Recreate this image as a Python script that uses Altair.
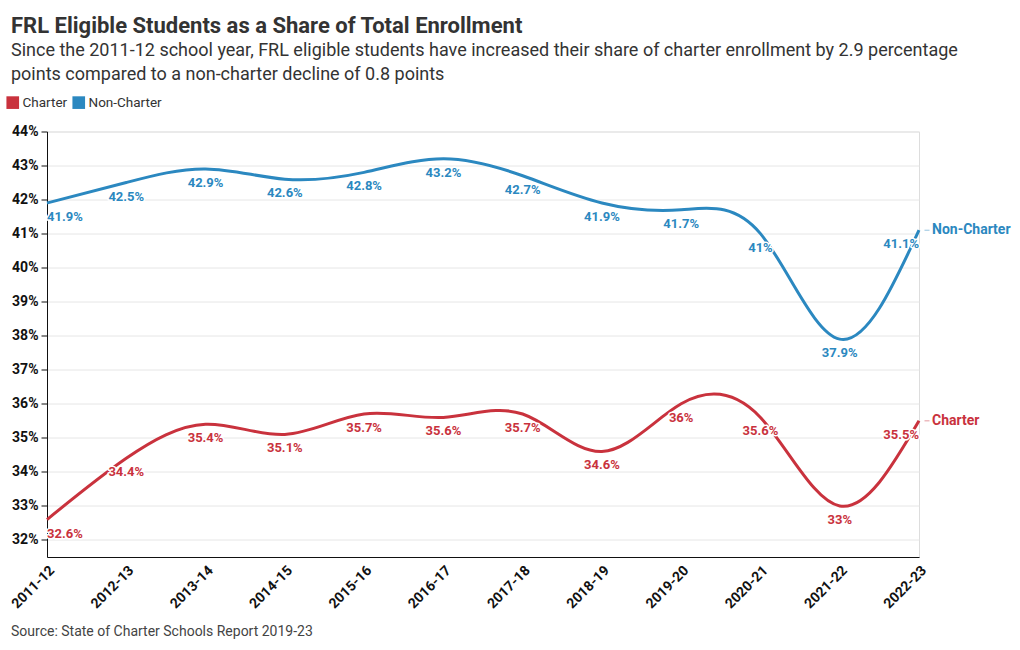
import altair as alt
import pandas as pd

years = ["2011-12", "2012-13", "2013-14", "2014-15", "2015-16", "2016-17",
         "2017-18", "2018-19", "2019-20", "2020-21", "2021-22", "2022-23"]
charter = [32.6, 34.4, 35.4, 35.1, 35.7, 35.6, 35.7, 34.6, 36.0, 35.6, 33.0, 35.5]
non_charter = [41.9, 42.5, 42.9, 42.6, 42.8, 43.2, 42.7, 41.9, 41.7, 41.0, 37.9, 41.1]
series_names = ["Charter", "Non-Charter"]
colors = ["#c9323d", "#2b88c0"]

rows = []
for i, y in enumerate(years):
    rows.append({"year": y, "series": "Charter", "value": charter[i], "idx": i,
                 "label": f"{charter[i]:g}%"})
    rows.append({"year": y, "series": "Non-Charter", "value": non_charter[i], "idx": i,
                 "label": f"{non_charter[i]:g}%"})
df = pd.DataFrame(rows)
last = len(years) - 1

FONT = "Roboto"
W, H = 872, 425.5

x_enc = alt.X("year:N", sort=years, scale=alt.Scale(type="point", padding=0),
              axis=alt.Axis(title=None, labelAngle=-45, labelFont=FONT, labelFontSize=14,
                            labelFontWeight="bold", labelColor="#111", ticks=False,
                            domainColor="#111", labelPadding=6, labelAlign="right",
                            labelBaseline="top", labelOverlap=False))
y_enc = alt.Y("value:Q", scale=alt.Scale(domain=[31.5, 44], nice=False, zero=False),
              axis=alt.Axis(title=None, values=list(range(32, 45)),
                            labelExpr="datum.value + '%'", labelFont=FONT, labelFontSize=14,
                            labelFontWeight="bold", labelColor="#111", tickColor="#111",
                            tickSize=6, domainColor="#111", gridColor="#e6e6e6",
                            labelPadding=3))
color_enc = alt.Color("series:N", scale=alt.Scale(domain=series_names, range=colors),
                      legend=alt.Legend(title=None, orient="none", legendX=-41, legendY=-36,
                                        direction="horizontal", symbolType="square",
                                        symbolSize=160, labelFont=FONT, labelFontSize=13.5,
                                        labelColor="#333", columnPadding=4, labelOffset=3,
                                        symbolStrokeWidth=0, symbolOpacity=1))

base = alt.Chart(df).encode(x=x_enc, y=y_enc)

line = base.mark_line(interpolate="natural", strokeWidth=3).encode(color=color_enc)


def labels(filt, align):
    halo = base.transform_filter(filt).mark_text(
        align=align, baseline="middle", dy=14, font=FONT, fontSize=13, fontWeight="bold",
        stroke="white", strokeWidth=3, strokeJoin="round", fill="white"
    ).encode(text="label:N")
    txt = base.transform_filter(filt).mark_text(
        align=align, baseline="middle", dy=14, font=FONT, fontSize=13, fontWeight="bold"
    ).encode(text="label:N", color=alt.Color("series:N", legend=None,
                                              scale=alt.Scale(domain=series_names, range=colors)))
    return halo + txt


lab_first = labels("datum.idx == 0", "left")
lab_mid = labels(f"datum.idx > 0 && datum.idx < {last}", "center")
lab_last = labels(f"datum.idx == {last}", "right")

end_df = df[df["idx"] == last]
end_base = alt.Chart(end_df).encode(x=x_enc, y=y_enc)
end_tick = end_base.mark_tick(orient="horizontal", size=5, thickness=1, xOffset=8, opacity=0.5).encode(
    color=alt.Color("series:N", legend=None, scale=alt.Scale(domain=series_names, range=colors)))
end_text = end_base.mark_text(align="left", baseline="middle", dx=13, font=FONT, fontSize=14,
                              fontWeight="bold").encode(
    text="series:N",
    color=alt.Color("series:N", legend=None, scale=alt.Scale(domain=series_names, range=colors)))

source = alt.Chart(pd.DataFrame({"t": ["Source: State of Charter Schools Report 2019-23"]})).mark_text(
    align="left", baseline="middle", font=FONT, fontSize=14, color="#444"
).encode(text="t:N", x=alt.value(-36), y=alt.value(H + 75))

chart = alt.layer(line, lab_first, lab_mid, lab_last, end_tick, end_text, source).properties(
    width=W, height=H,
    title=alt.TitleParams(
        text="FRL Eligible Students as a Share of Total Enrollment",
        subtitle=["Since the 2011-12 school year, FRL eligible students have increased their share of charter enrollment by 2.9 percentage",
                  "points compared to a non-charter decline of 0.8 points"],
        anchor="start", dx=-36, offset=11, font=FONT, fontSize=22, fontWeight="bold",
        color="#333", subtitleFont=FONT, subtitleFontSize=18, subtitleColor="#333",
        subtitleLineHeight=24, subtitlePadding=4, frame="group"),
    autosize=alt.AutoSizeParams(type="none"),
    padding={"left": 47, "top": 131.5, "right": 101, "bottom": 92.5},
).configure_view(stroke=None).configure(background="white")

chart.save("out.html", embed_options={"renderer": "svg", "actions": False})
